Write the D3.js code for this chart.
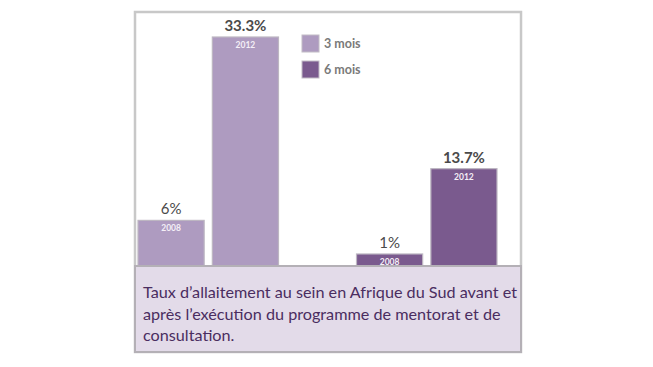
<!DOCTYPE html>
<html>
<head>
<meta charset="utf-8">
<script src="https://d3js.org/d3.v7.min.js"></script>
<style>
body { margin: 0; background: #fff; }
</style>
</head>
<body>
<svg id="chart" width="653" height="367"></svg>
<script>
// data
const groups = ["3 mois", "6 mois"];
const years = ["2008", "2012"];
const values3 = [6, 33.3];
const values6 = [1, 13.7];
const valueLabels3 = ["6%", "33.3%"];
const valueLabels6 = ["1%", "13.7%"];
const caption = [
  "Taux d\u2019allaitement au sein en Afrique du Sud avant et",
  "apr\u00e8s l\u2019ex\u00e9cution du programme de mentorat et de",
  "consultation."
];

const colors = ["#ae9bc0", "#7a5a8e"];

const svg = d3.select("#chart");
const frame = {left: 135, top: 12, right: 521, bottom: 352};
const baseline = 266;

// outer frame
svg.append("rect")
  .attr("x", frame.left).attr("y", frame.top)
  .attr("width", frame.right - frame.left).attr("height", frame.bottom - frame.top)
  .attr("fill", "#fff").attr("stroke", "#c8c8c8").attr("stroke-width", 2.5);

// rows for each bar
const rows = [];
groups.forEach((g, gi) => {
  const vals = gi == 0 ? values3 : values6;
  const labs = gi == 0 ? valueLabels3 : valueLabels6;
  years.forEach((yr, yi) => rows.push({group: g, gi: gi, year: yr, value: vals[yi], label: labs[yi]}));
});

// scales
const groupScale = d3.scaleBand().domain(groups).range([138, 497]).paddingInner(0.357);
const yearScale = d3.scaleBand().domain(years).range([0, groupScale.bandwidth()]).paddingInner(0.11);
const yScale = d3.scaleLinear().domain([-0.79, 33.3]).range([baseline, 37]);

const bars = svg.append("g").attr("id", "bars");
bars.selectAll("rect.bar").data(rows).enter().append("rect").attr("class", "bar")
  .attr("x", d => groupScale(d.group) + yearScale(d.year))
  .attr("y", d => yScale(d.value))
  .attr("width", yearScale.bandwidth())
  .attr("height", d => baseline - yScale(d.value))
  .attr("fill", d => colors[d.gi])
  .attr("stroke", "#bdb6c2").attr("stroke-width", 1.2);

// value labels
bars.selectAll("text.val").data(rows).enter().append("text").attr("class", "val")
  .attr("x", d => groupScale(d.group) + yearScale(d.year) + yearScale.bandwidth() / 2)
  .attr("y", d => yScale(d.value) - 6)
  .attr("text-anchor", "middle")
  .attr("font-family", "Lato, sans-serif")
  .attr("font-size", "15px")
  .attr("font-weight", d => d.value > 10 ? "bold" : "normal")
  .attr("fill", "#4a4a4a")
  .text(d => d.label);

// year labels inside bars
bars.selectAll("text.yr").data(rows).enter().append("text").attr("class", "yr")
  .attr("x", d => groupScale(d.group) + yearScale(d.year) + yearScale.bandwidth() / 2)
  .attr("y", d => yScale(d.value) + 11)
  .attr("text-anchor", "middle")
  .attr("font-family", "Lato, sans-serif")
  .attr("font-size", "8.5px")
  .attr("font-weight", "bold")
  .attr("fill", "#f4eff7")
  .text(d => d.year);

// legend
const legend = svg.append("g").attr("class", "legend");
groups.forEach((g, i) => {
  legend.append("rect").attr("x", 302).attr("y", 35 + i * 26).attr("width", 17).attr("height", 17)
    .attr("fill", colors[i]).attr("stroke", "#c2bcc6").attr("stroke-width", 1);
  legend.append("text").attr("x", 324).attr("y", 48 + i * 26)
    .attr("font-family", "Lato, sans-serif").attr("font-size", "12.5px").attr("font-weight", "bold")
    .attr("fill", "#7a7a7a").text(g);
});

// caption box
svg.append("rect")
  .attr("x", frame.left).attr("y", baseline)
  .attr("width", frame.right - frame.left).attr("height", frame.bottom - baseline)
  .attr("fill", "#e3dbe9").attr("stroke", "#b4b0b6").attr("stroke-width", 2);

caption.forEach((line, i) => {
  svg.append("text").attr("x", 143).attr("y", 298 + i * 21.5)
    .attr("font-family", "Lato, sans-serif").attr("font-size", "16.2px")
    .attr("fill", "#4a2d60").text(line);
});
</script>
</body>
</html>
